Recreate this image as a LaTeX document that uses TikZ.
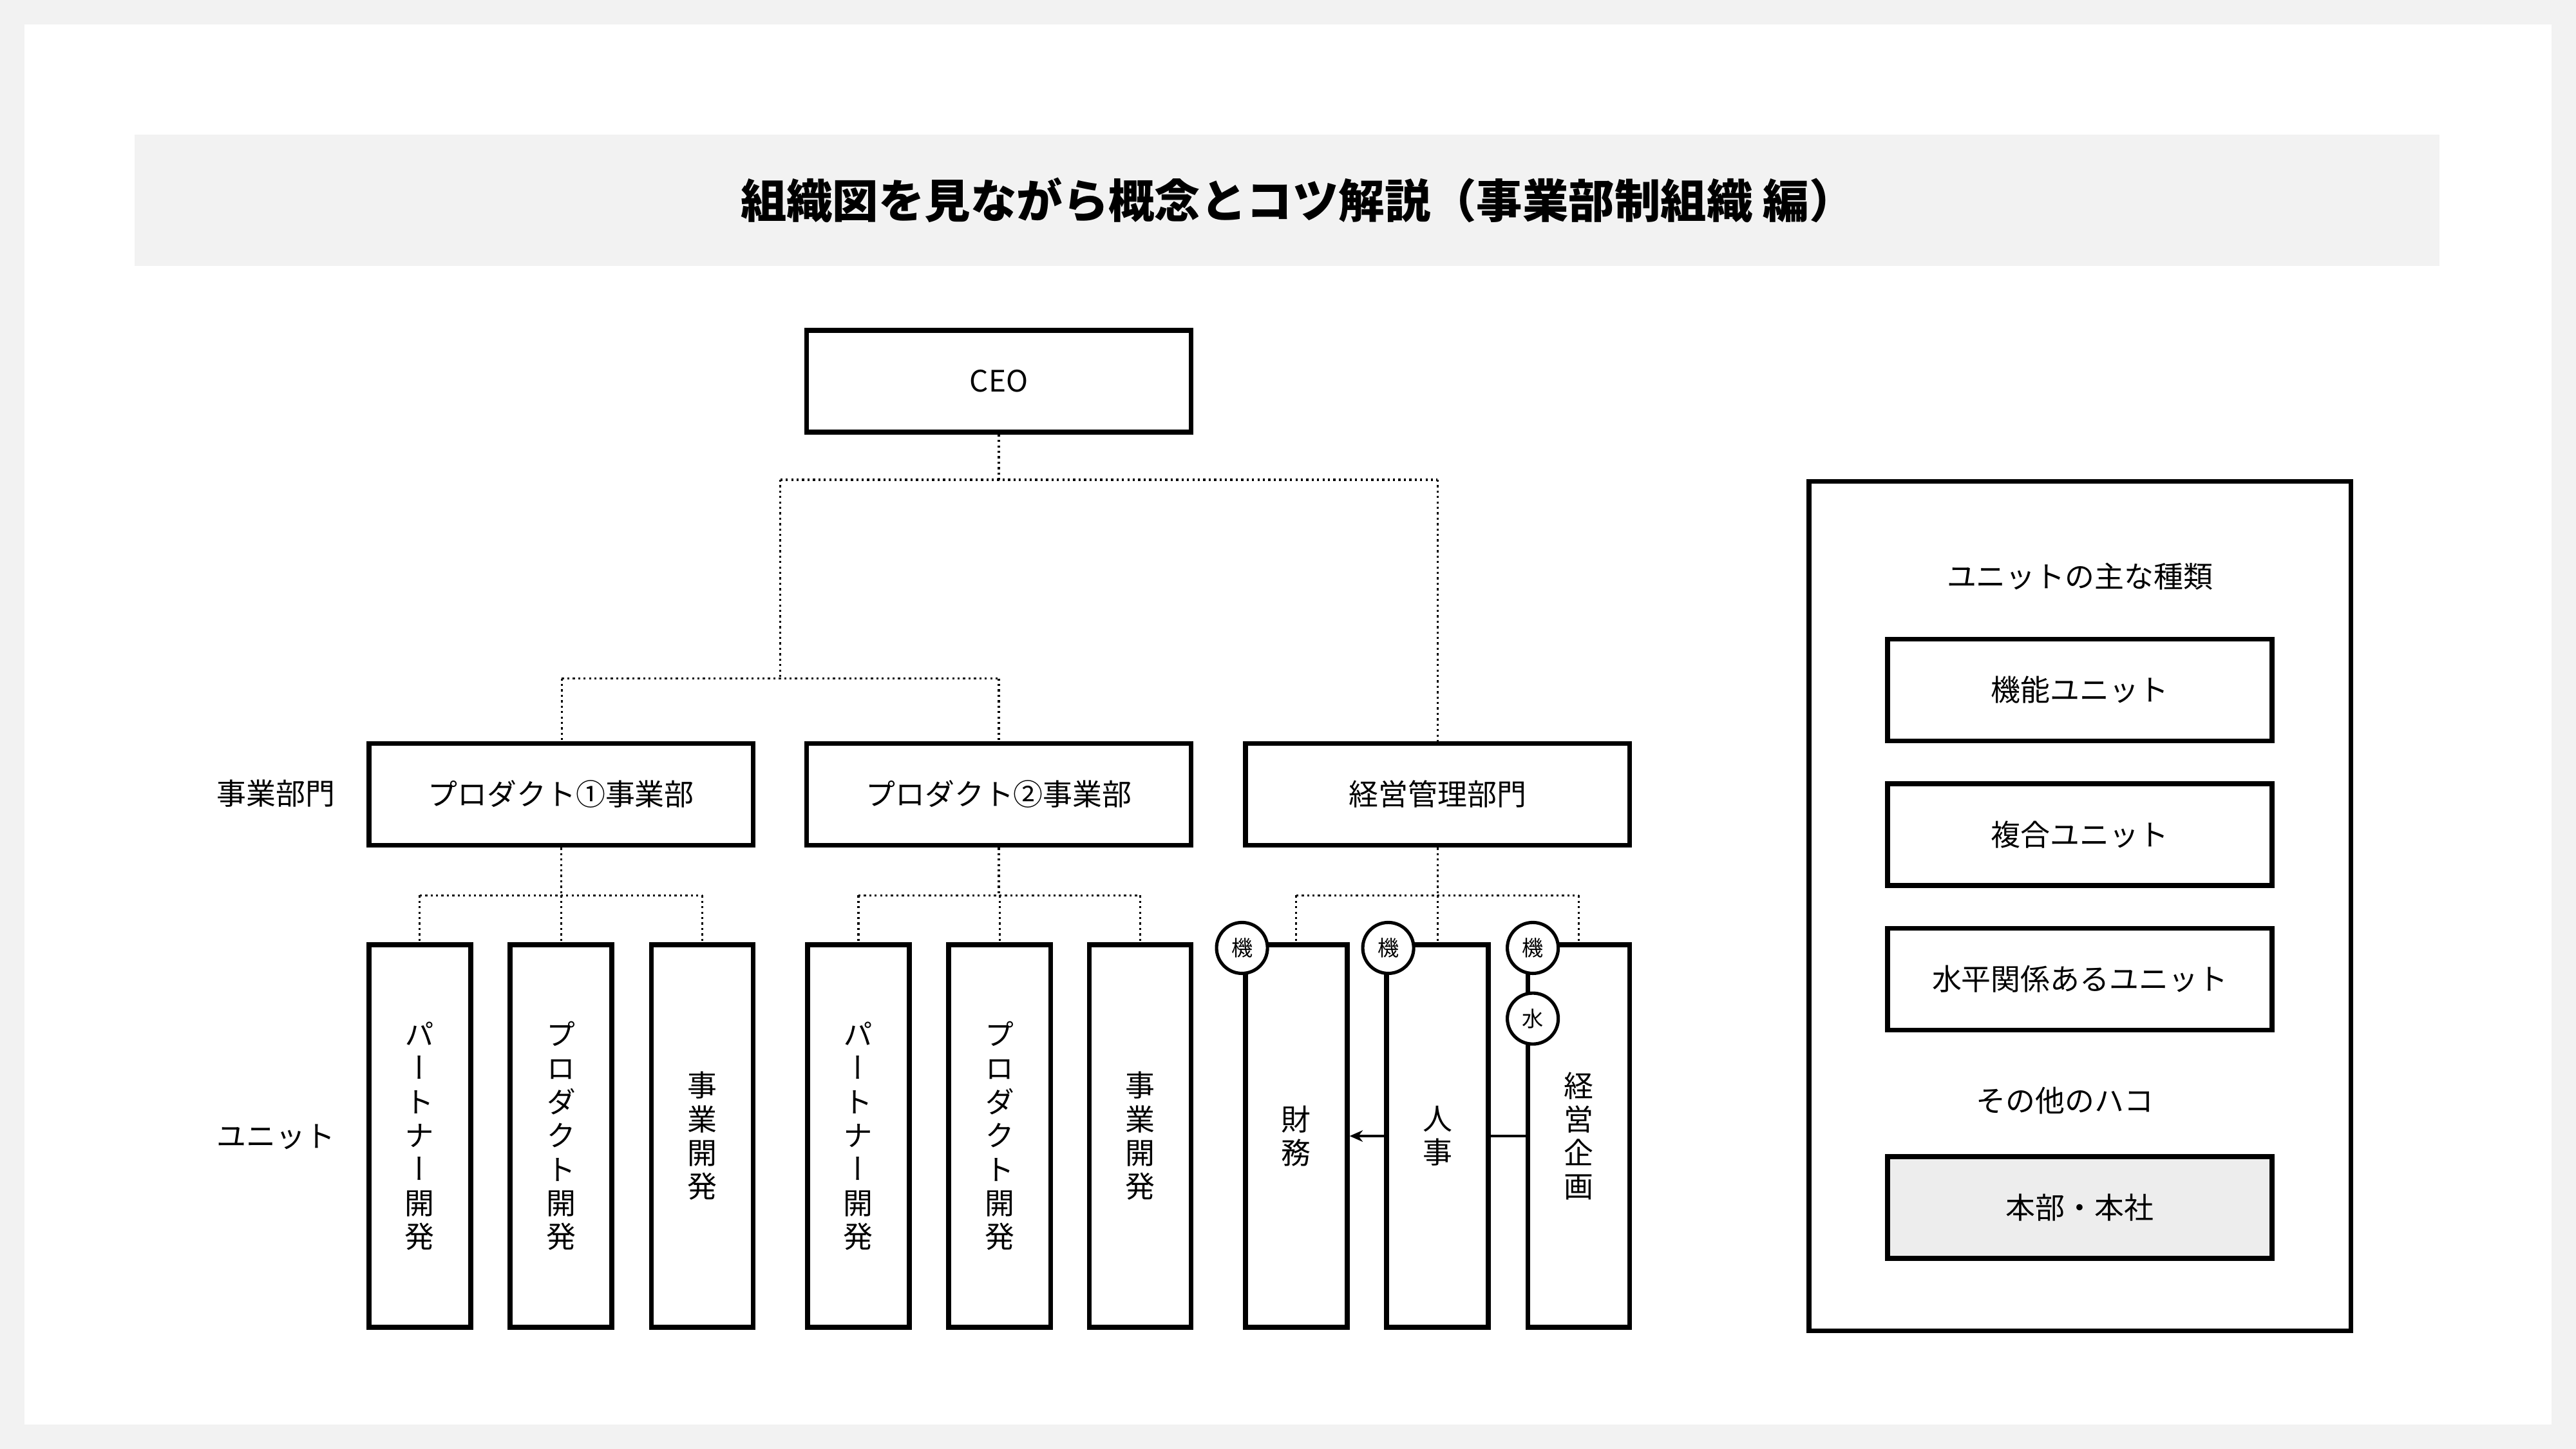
\documentclass[tikz,border=0pt]{standalone}
\usepackage{fontspec}
\setmainfont{Noto Sans CJK JP}
\newfontfamily\vfont[RawFeature=+vert]{Noto Sans CJK JP}
\usetikzlibrary{arrows.meta}
\begin{document}
\begin{tikzpicture}[x=1pt,y=-1pt,
  box/.style={draw=black,line width=3pt,fill=white,inner sep=0pt,font=\fontsize{18}{20}\selectfont},
  dot/.style={line width=1.3pt,dotted},
  lbl/.style={font=\fontsize{18}{20}\selectfont},
  vt/.style={align=center,font=\vfont\fontsize{18}{20.5}\selectfont},
  circ/.style={circle,draw=black,line width=2pt,fill=white,minimum size=31pt,inner sep=0pt,font=\fontsize{13}{13}\selectfont}]
\fill[black!5] (0,0) rectangle (1568,882);
\fill[white] (15,15) rectangle (1553,867);
\fill[black!5] (82,82) rectangle (1485,162);
\node[font=\bfseries\fontsize{28}{30}\selectfont] (title) at (790,122) {組織図を見ながら概念とコツ解説（事業部制組織 編）};
\useasboundingbox (0,0) rectangle (1568,882);
% CEO
\node[box,minimum width=234pt,minimum height=62pt] (ceo) at (608,232) {CEO};
\node[box,minimum width=234pt,minimum height=62pt] (p1) at (341.5,483.5) {プロダクト①事業部};
\node[box,minimum width=234pt,minimum height=62pt] (p2) at (608,483.5) {プロダクト②事業部};
\node[box,minimum width=234pt,minimum height=62pt] (mg) at (875,483.5) {経営管理部門};
\node[lbl] (l1) at (168,483) {事業部門};
\node[lbl] (l2) at (168,692) {ユニット};
% dotted tree top
\coordinate (t1) at (608,292);
\coordinate (t2) at (475,292);
\coordinate (t3) at (875,292);
\coordinate (t4) at (475,413);
\coordinate (t5) at (342,413);
\coordinate (t6) at (608,413);
\draw[dot] (ceo.south) -- (t1) (t2) -- (t3) (t2) -- (t4) (t5) -- (t6);
\draw[dot] (t5) -- (p1.north -| t5);
\draw[dot] (t6) -- (p2.north);
\draw[dot] (t3) -- (mg.north);
% units
\foreach \n/\x/\t in {a1/255.5/パ\\ー\\ト\\ナ\\ー\\開\\発, a2/341.5/プ\\ロ\\ダ\\ク\\ト\\開\\発, a3/427.5/事\\業\\開\\発,
  b1/522.5/パ\\ー\\ト\\ナ\\ー\\開\\発, b2/608.5/プ\\ロ\\ダ\\ク\\ト\\開\\発, b3/694/事\\業\\開\\発,
  c1/789/財\\務, c2/875/人\\事, c3/961/経\\営\\企\\画}{
  \node[box,minimum width=62pt,minimum height=233pt] (\n) at (\x,691.5) {};
  \node[vt] at (\n) {\t};
}
\foreach \p/\u/\y in {p1/a/545, p2/b/545, mg/c/545}{
  \coordinate (\p m) at (\p.south |- 0,\y);
  \draw[dot] (\p.south) -- (\p m);
  \draw[dot] (\u1.north |- \p m) -- (\u3.north |- \p m);
  \foreach \i in {1,2,3}{\draw[dot] (\u\i.north |- \p m) -- (\u\i.north);}
}
\node[circ] (k1) at (756,577) {機};
\node[circ] (k2) at (845,577) {機};
\node[circ] (k3) at (933,577) {機};
\node[circ] (w1) at (933,620) {水};
\draw[line width=1.5pt,-{Stealth[length=8pt,width=7pt]}] (c2.west) -- (c1.east);
\draw[line width=1.5pt] (c2.east) -- (c3.west);
% right panel
\node[draw=black,line width=3pt,minimum width=330pt,minimum height=517pt,inner sep=0pt] (panel) at (1266,551.5) {};
\node[lbl] (h1) at (1266,351) {ユニットの主な種類};
\node[box,minimum width=234pt,minimum height=62pt] (r1) at (1266,420) {機能ユニット};
\node[box,minimum width=234pt,minimum height=62pt] (r2) at (1266,508) {複合ユニット};
\node[box,minimum width=234pt,minimum height=62pt] (r3) at (1266,596) {水平関係あるユニット};
\node[lbl] (h2) at (1257,670) {その他のハコ};
\node[box,fill=black!7,minimum width=234pt,minimum height=62pt] (r4) at (1266,735) {本部・本社};
\end{tikzpicture}
\end{document}
